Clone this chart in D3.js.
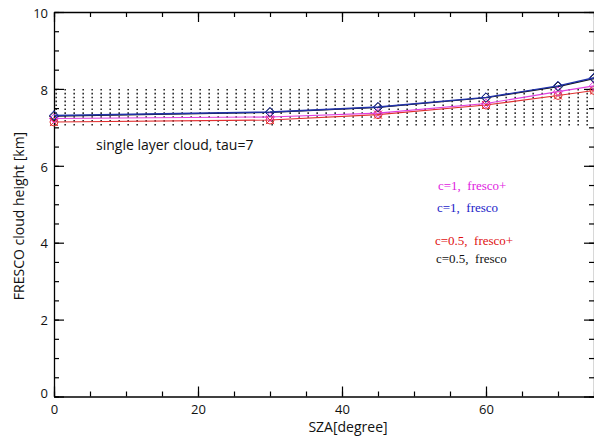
<!DOCTYPE html>
<html><head><meta charset="utf-8">
<script src="https://cdn.jsdelivr.net/npm/d3@7"></script>
<style>body{margin:0;background:#fff;} svg{display:block;}</style>
</head><body>
<script>
const sza = [0, 30, 45, 60, 70, 75];
const blackFresco = [7.29, 7.39, 7.52, 7.77, 8.06, 8.27];
const blueFresco = [7.31, 7.40, 7.53, 7.78, 8.08, 8.29];
const magentaFrescoPlus = [7.23, 7.27, 7.37, 7.62, 7.93, 8.08];
const redFrescoPlus = [7.14, 7.19, 7.33, 7.58, 7.83, 7.96];
const cloudLayer = [7, 8];
const xTicks = [0, 20, 40, 60];
const yTicks = [0, 2, 4, 6, 8, 10];
const legendLabels = ["c=1,  fresco+", "c=1,  fresco", "c=0.5,  fresco+", "c=0.5,  fresco"];

const W = 594, H = 439;
const svg = d3.select("body").append("svg").attr("width", W).attr("height", H);
const x = d3.scaleLinear().domain([0, 75]).range([54, 594]);
const y = d3.scaleLinear().domain([0, 10]).range([396.5, 12]);

// dotted cloud layer
const cols = d3.range(0.3, 75, 1.25);
svg.append("g").selectAll("line").data(cols).join("line")
  .attr("x1", d => x(d)).attr("x2", d => x(d))
  .attr("y1", y(cloudLayer[1])).attr("y2", y(cloudLayer[0]))
  .attr("stroke", "#111").attr("stroke-width", 1.4)
  .attr("stroke-dasharray", "1.6,2.3");

// axes
const tickFont = "'Open Sans', sans-serif";
const xMinor = d3.range(0, 76, 5);
const yMinor = d3.range(0, 10.01, 0.5);
function styleAxis(g){ g.select(".domain").attr("stroke","#000").attr("stroke-width",1.3);
  g.selectAll(".tick line").attr("stroke","#000").attr("stroke-width",1.2);
  g.selectAll("text").attr("font-family", tickFont).attr("font-size", 13).attr("fill","#111"); }

// bottom
svg.append("g").attr("transform", `translate(0,${y(0)})`)
  .call(d3.axisBottom(x).tickValues(xMinor).tickSize(-5).tickFormat(""))
  .call(styleAxis).call(g => g.select(".domain").remove());
svg.append("g").attr("transform", `translate(0,${y(0)})`)
  .call(d3.axisBottom(x).tickValues(xTicks).tickSize(-10).tickPadding(8).tickSizeOuter(0).tickFormat(d3.format("d")))
  .call(styleAxis);
// top
svg.append("g").attr("transform", `translate(0,${y(10)})`)
  .call(d3.axisTop(x).tickValues(xMinor).tickSize(-5).tickFormat(""))
  .call(styleAxis).call(g => g.select(".domain").remove());
svg.append("g").attr("transform", `translate(0,${y(10)})`)
  .call(d3.axisTop(x).tickValues(xTicks).tickSize(-10).tickSizeOuter(0).tickFormat(""))
  .call(styleAxis);
// left
svg.append("g").attr("transform", `translate(${x(0)},0)`)
  .call(d3.axisLeft(y).tickValues(yMinor).tickSize(-5).tickFormat(""))
  .call(styleAxis).call(g => g.select(".domain").remove());
svg.append("g").attr("transform", `translate(${x(0)},0)`)
  .call(d3.axisLeft(y).tickValues(yTicks).tickSize(-10).tickPadding(6).tickSizeOuter(0).tickFormat(d3.format("d")))
  .call(styleAxis)
  .call(g => g.selectAll(".tick text").attr("dy", d => d === 0 ? "0.05em" : "0.4em"));
// right
svg.append("g").attr("transform", `translate(${x(75)},0)`)
  .call(d3.axisRight(y).tickValues(yMinor).tickSize(-5).tickFormat(""))
  .call(styleAxis).call(g => g.select(".domain").remove());
svg.append("g").attr("transform", `translate(${x(75)},0)`)
  .call(d3.axisRight(y).tickValues(yTicks).tickSize(-10).tickSizeOuter(0).tickFormat(""))
  .call(styleAxis);

// series
const line = d3.line().x((d, i) => x(sza[i])).y(d => y(d));
const series = [
  {vals: blackFresco, color: "#111", w: 1.2, sym: "diamond"},
  {vals: redFrescoPlus, color: "#e03030", w: 1.1, sym: "cross"},
  {vals: magentaFrescoPlus, color: "#e040e0", w: 1.1, sym: "diamond"},
  {vals: blueFresco, color: "#2233aa", w: 1.4, sym: "diamond"}
];
const diamond = d3.symbol().type(d3.symbolDiamond2).size(55);
const cross = d3.symbol().type(d3.symbolX).size(45);
series.forEach(s => {
  svg.append("path").datum(s.vals).attr("d", line)
    .attr("fill", "none").attr("stroke", s.color).attr("stroke-width", s.w);
  svg.append("g").selectAll("path").data(s.vals).join("path")
    .attr("transform", (d, i) => `translate(${x(sza[i])},${y(d)})`)
    .attr("d", s.sym === "diamond" ? diamond : cross)
    .attr("fill", "none").attr("stroke", s.color).attr("stroke-width", 1);
  if (s.sym === "cross") {
    svg.append("g").selectAll("circle").data(s.vals).join("circle")
      .attr("cx", (d, i) => x(sza[i])).attr("cy", d => y(d)).attr("r", 4)
      .attr("fill", "none").attr("stroke", s.color).attr("stroke-width", 1);
  }
});

// annotation
svg.append("text").attr("x", 96).attr("y", 150)
  .attr("font-family", "'Open Sans', sans-serif").attr("font-size", 14).attr("fill", "#111")
  .text("single layer cloud, tau=7");

// legend text
const legColors = ["#e020e0", "#1a1ac8", "#e01010", "#111"];
const legX = [438, 437, 435, 436];
const legY = [190, 212, 245, 263];
legendLabels.forEach((t, i) => {
  svg.append("text").attr("x", legX[i]).attr("y", legY[i])
    .attr("font-family", "'Liberation Serif', serif").attr("font-size", 13)
    .attr("fill", legColors[i]).attr("xml:space", "preserve").style("white-space", "pre").text(t);
});

// axis titles
svg.append("text").attr("x", 348).attr("y", 432).attr("text-anchor", "middle")
  .attr("font-family", "'Open Sans', sans-serif").attr("font-size", 14).attr("fill", "#111")
  .text("SZA[degree]");
svg.append("text").attr("transform", "translate(24,216) rotate(-90)").attr("text-anchor", "middle")
  .attr("font-family", "'Open Sans', sans-serif").attr("font-size", 14).attr("fill", "#111")
  .text("FRESCO cloud height [km]");
</script>
</body></html>
